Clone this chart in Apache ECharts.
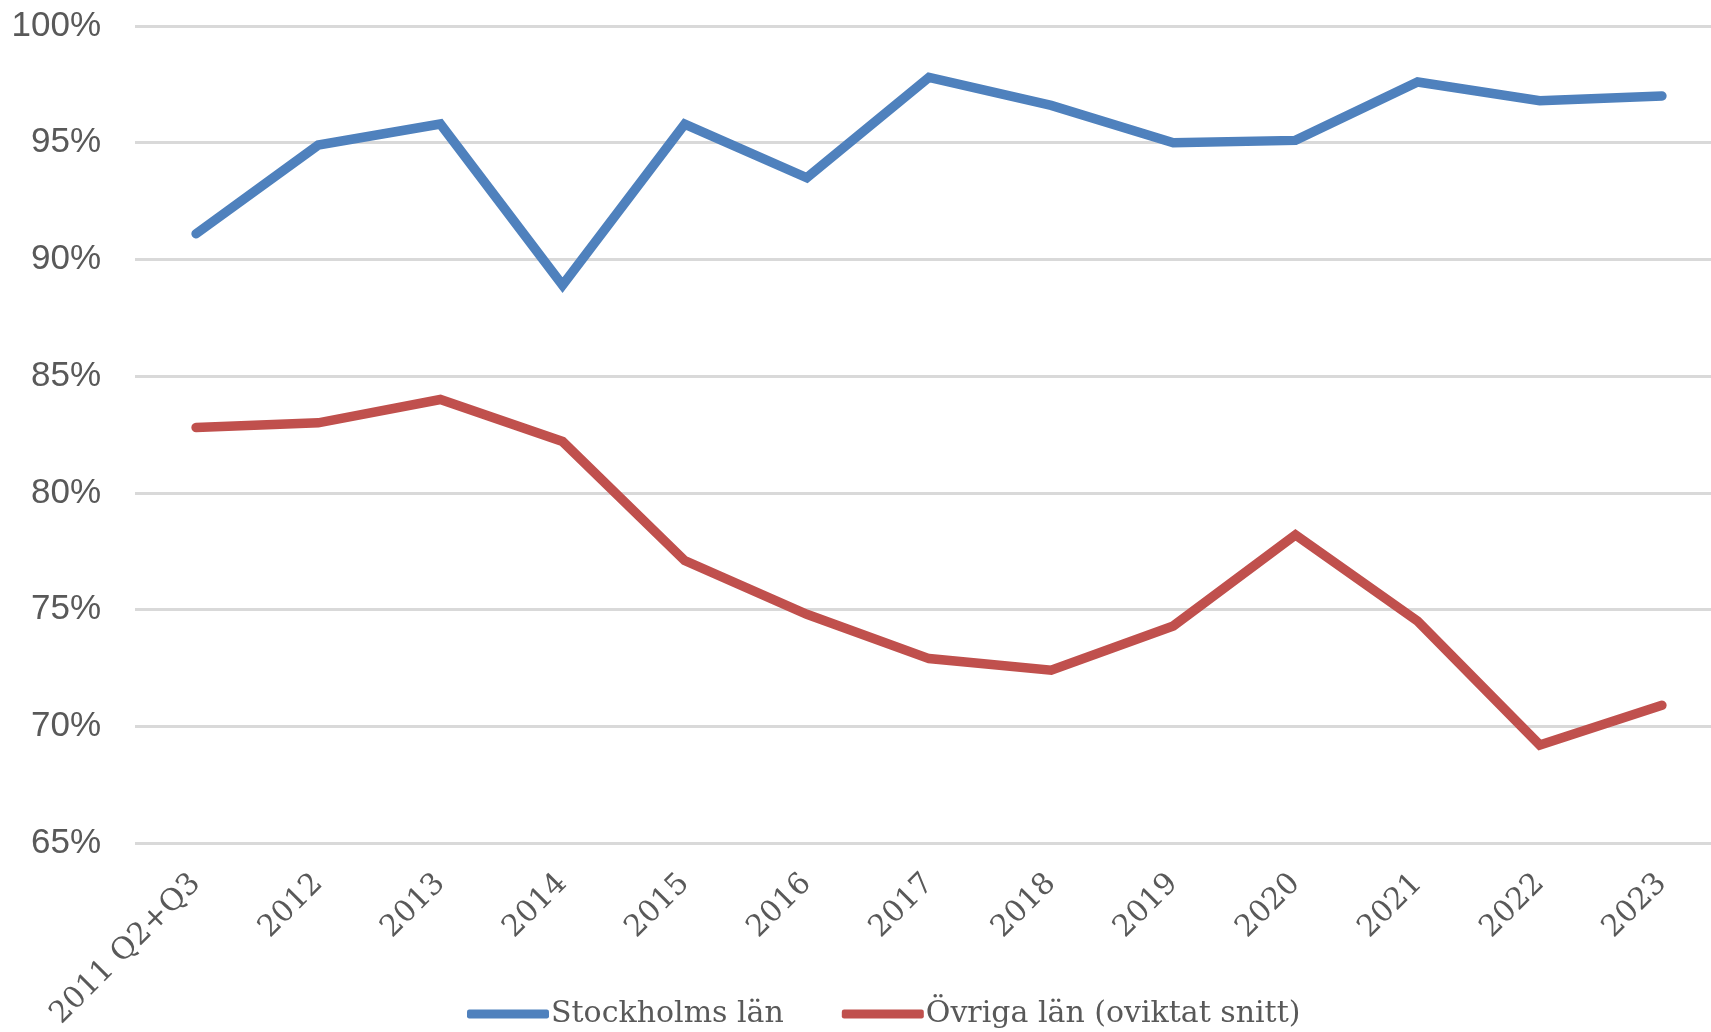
<!DOCTYPE html>
<html>
<head>
<meta charset="utf-8">
<script src="https://cdn.jsdelivr.net/npm/echarts@6/dist/echarts.min.js"></script>
<style type="text/css">
html, body{margin: 0; padding: 0; background: #fff;}
#chart{width: 1711px; height: 1032px;}
</style>
</head>
<body>
<div id="chart"></div>
<script>
// kategorier och värden (procent)
var years = ['2011 Q2+Q3','2012','2013','2014','2015','2016','2017','2018','2019','2020','2021','2022','2023'];
var stockholm = [91.1, 94.9, 95.8, 88.9, 95.8, 93.5, 97.8, 96.6, 95.0, 95.1, 97.6, 96.8, 97.0];
var ovriga = [82.8, 83.0, 84.0, 82.2, 77.1, 74.8, 72.9, 72.4, 74.3, 78.2, 74.5, 69.2, 70.9];
var seriesNames = ['Stockholms län', 'Övriga län (oviktat snitt)'];
var colors = ['#4f81bd', '#c0504d'];

var myChart = echarts.init(document.getElementById('chart'));

function lineSeries(name, data, color){
    return {
        name: name,
        type: 'line',
        data: data,
        symbol: 'none',
        smooth: false,
        lineStyle: {color: color, width: 9.5, cap: 'round', join: 'miter'},
        itemStyle: {color: color}
    };
}

var options = {
    animation: false,
    backgroundColor: '#fff',
    grid: {left: 135, top: 26, width: 1588, height: 817, outerBoundsMode: 'none', containLabel: false},
    legend: {
        left: 462,
        top: 994,
        icon: 'roundRect',
        itemWidth: 82,
        itemHeight: 9,
        itemGap: 58,
        textStyle: {fontFamily: 'DejaVu Serif', fontSize: 30, color: '#595959', padding: [0, 0, 0, -3]},
        data: seriesNames
    },
    xAxis: {
        type: 'category',
        data: years,
        boundaryGap: true,
        axisLine: {show: false},
        axisTick: {show: false},
        axisLabel: {
            rotate: 45,
            margin: 36,
            interval: 0,
            fontFamily: 'DejaVu Serif',
            fontSize: 30,
            color: '#595959'
        }
    },
    yAxis: {
        type: 'value',
        min: 65,
        max: 100,
        interval: 5,
        axisLine: {show: false},
        axisTick: {show: false},
        splitLine: {lineStyle: {color: '#d9d9d9', width: 3}},
        axisLabel: {
            formatter: '{value}%',
            margin: 34,
            fontFamily: 'Liberation Sans',
            fontSize: 35,
            color: '#595959'
        }
    },
    series: [
        lineSeries(seriesNames[0], stockholm, colors[0]),
        lineSeries(seriesNames[1], ovriga, colors[1])
    ]
};

myChart.setOption(options);
</script>
</body>
</html>
